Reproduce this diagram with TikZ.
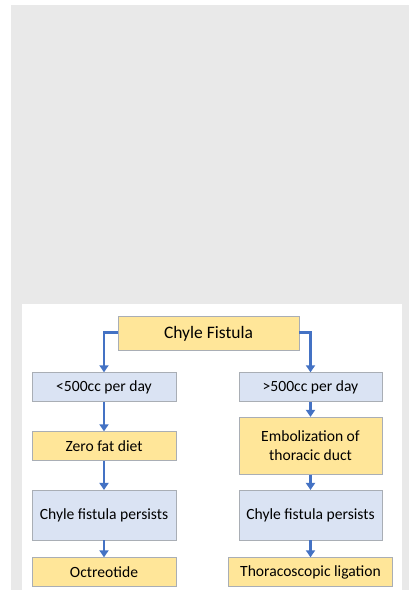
\documentclass[tikz,border=0pt]{standalone}
\usepackage{fontspec}
\setmainfont{Carlito}
\usetikzlibrary{arrows.meta}
\definecolor{bgray}{HTML}{E9E9E9}
\definecolor{byellow}{HTML}{FFE699}
\definecolor{bblue}{HTML}{DAE3F3}
\definecolor{barrow}{HTML}{4472C4}
\definecolor{bborder}{HTML}{A9AEB5}
\begin{document}
\begin{tikzpicture}[x=1pt,y=-1pt,
  ybox/.style={draw=bborder,line width=0.8pt,fill=byellow,inner sep=0pt,font=\fontsize{15.6}{19.5}\selectfont,align=center},
  bbox/.style={draw=bborder,line width=0.8pt,fill=bblue,inner sep=0pt,font=\fontsize{15.6}{19.5}\selectfont,align=center},
  conn/.style={draw=barrow,line width=2.6pt,-{Triangle[length=7pt,width=9pt]}}]
\useasboundingbox (0,0) rectangle (409,590);
\fill[bgray] (11,5) rectangle (409,590);
\fill[white] (22,304) rectangle (402,590);
\begin{scope}
\clip (0,0) rectangle (11,590);
\node[font=\fontsize{15}{17}\selectfont,anchor=east] (frag) at (3.5,206) {e};
\end{scope}
% nodes
\node[ybox,minimum width=181pt,minimum height=34.5pt,font=\fontsize{17.5}{20}\selectfont] (top) at (208.5,333.5) {Chyle Fistula};
\node[bbox,minimum width=144pt,minimum height=29pt] (l1) at (104,387.2) {<500cc per day};
\node[bbox,minimum width=143pt,minimum height=29pt] (r1) at (310.5,387.2) {>500cc per day};
\node[ybox,minimum width=144pt,minimum height=29pt] (l2) at (104,446.2) {Zero fat diet};
\node[ybox,minimum width=143pt,minimum height=57pt] (r2) at (310.5,445.8) {Embolization of\\thoracic duct};
\node[bbox,minimum width=144pt,minimum height=49.7pt] (l3) at (104,515.2) {Chyle fistula persists};
\node[bbox,minimum width=143pt,minimum height=49.7pt] (r3) at (310.5,515.2) {Chyle fistula persists};
\node[ybox,minimum width=144pt,minimum height=29pt] (l4) at (104,572.2) {Octreotide};
\node[ybox,minimum width=163.6pt,minimum height=29pt] (r4) at (310.5,572.2) {Thoracoscopic ligation};
% connectors
\draw[conn] (top.west |- 0,332.7) -| (l1.north);
\draw[conn] (top.east |- 0,332.7) -| (r1.north);
\draw[conn] (l1) -- (l2);
\draw[conn] (r1) -- (r2);
\draw[conn] (l2) -- (l3);
\draw[conn] (r2) -- (r3);
\draw[conn] (l3) -- (l4);
\draw[conn] (r3) -- (r4);
\end{tikzpicture}
\end{document}
